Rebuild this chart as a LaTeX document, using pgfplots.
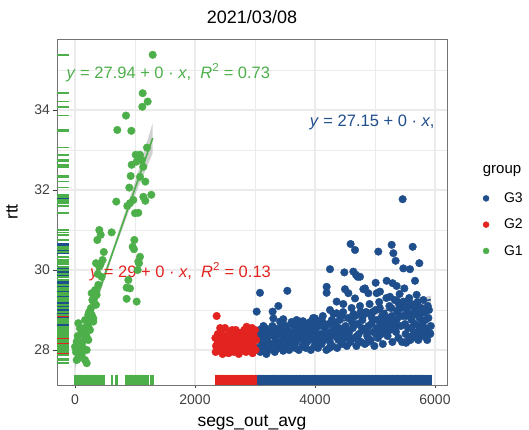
\documentclass[border=0pt]{standalone}
\usepackage{pgfplots}
\pgfplotsset{compat=1.18}
\usepackage{pgfplotstable}
\usepackage{fontspec}
\setmainfont{Liberation Sans}
\definecolor{cthree}{HTML}{1F4E8C}
\definecolor{ctwo}{HTML}{E2231F}
\definecolor{cone}{HTML}{4DAF4A}
\definecolor{gridc}{HTML}{EBEBEB}
\definecolor{bandc}{HTML}{9A9A9A}

% G1
\pgfplotstableread{
x y
1295 35.38
1128 34.42
1211 34.21
1122 34.08
850 33.86
705 33.50
939 33.48
1200 33.06
1012 32.88
1083 32.88
1028 32.71
1112 32.75
945 32.63
1138 32.58
928 32.35
1083 32.33
905 32.06
1172 32.21
1272 31.88
1139 31.83
1172 31.73
688 31.71
917 31.67
972 31.75
872 31.60
1000 31.42
1055 31.43
405 31.00
428 30.88
372 30.75
611 30.94
989 30.75
961 30.58
983 30.52
1083 30.33
1055 30.21
350 30.17
428 30.15
405 30.08
1067 30.17
1044 30.00
389 29.63
444 29.83
861 29.56
889 29.75
917 29.54
278 29.42
361 29.38
305 29.21
350 29.13
861 29.28
1028 29.21
250 28.96
222 28.88
278 28.88
305 28.79
167 28.75
305 28.71
222 28.58
250 28.50
55 28.67
83 28.54
195 28.33
222 28.25
28 28.21
83 28.13
0 28.08
139 28.04
195 28.00
111 27.88
55 27.79
28 27.75
167 27.75
195 27.67
15 27.95
45 28.35
70 28.00
100 28.40
125 28.20
150 28.55
180 28.45
210 28.70
235 28.95
265 29.05
290 29.25
320 29.30
335 29.50
380 29.90
460 30.25
480 30.45
}\tabone

% G2
\pgfplotstableread{
x y
2361 28.85
2340 28.30
2350 28.10
2345 27.95
2380 28.40
2390 28.20
2400 28.00
2420 28.30
2440 28.45
2450 28.10
2460 27.90
2480 28.25
2500 28.55
2510 28.05
2530 28.35
2545 28.15
2560 27.92
2580 28.45
2600 28.25
2615 28.05
2630 28.38
2650 27.95
2660 28.20
2680 28.50
2700 28.10
2715 28.30
2730 27.90
2750 28.42
2765 28.15
2780 28.00
2800 28.30
2820 28.50
2835 28.10
2850 27.95
2865 28.35
2880 28.20
2900 28.45
2915 28.00
2930 28.25
2950 28.55
2965 28.10
2980 28.35
3000 28.50
3010 28.00
3020 28.25
2370 28.15
2470 28.35
2570 28.30
2670 28.05
2770 28.35
2870 28.45
2960 27.92
2420 28.55
2620 28.50
2860 28.58
}\tabtwo

% G3
\pgfplotstableread{
x y
3040 28.05
3060 28.30
3075 28.50
3090 27.95
3110 28.20
3130 28.40
3150 28.10
3170 28.55
3190 27.90
3210 28.30
3230 28.00
3250 28.45
3270 28.15
3290 28.60
3310 28.35
3330 27.95
3350 28.25
3370 28.50
3390 28.05
3410 28.40
3430 28.20
3450 28.65
3470 27.98
3490 28.30
3510 28.10
3530 28.50
3550 28.25
3570 28.00
3590 28.45
3610 28.70
3630 28.15
3650 28.35
3670 28.05
3690 28.55
3710 28.25
3730 28.00
3750 28.40
3770 28.60
3790 28.10
3810 28.30
3830 28.50
3850 28.05
3870 28.20
3890 28.65
3910 28.35
3930 28.00
3950 28.45
3970 28.80
3990 28.10
4010 28.55
4030 28.30
4050 28.05
4070 28.70
4090 28.40
4110 28.15
4130 28.85
4150 28.25
4170 28.55
4190 28.00
4210 28.40
4230 28.65
4250 28.20
4270 28.45
4290 28.10
4310 28.90
4330 28.35
4350 28.60
4370 28.05
4390 28.25
4410 28.75
4430 28.50
4450 28.15
4470 28.95
4490 28.35
4510 28.60
4530 28.10
4550 28.80
4570 28.45
4590 28.20
4610 29.05
4630 28.55
4650 28.30
4670 28.85
4690 28.10
4710 28.65
4730 28.40
4750 29.10
4770 28.20
4790 28.75
4810 28.50
4830 28.15
4850 28.95
4870 28.35
4890 28.60
4910 29.15
4930 28.25
4950 28.80
4970 28.45
4990 28.10
5010 29.00
5030 28.55
5050 28.30
5070 29.20
5090 28.70
5110 28.40
5130 28.15
5150 28.90
5170 28.60
5190 29.30
5210 28.35
5230 28.80
5250 28.50
5270 29.05
5290 28.20
5310 28.70
5330 29.25
5350 28.45
5370 28.95
5390 28.30
5410 29.40
5430 28.60
5450 28.20
5470 28.85
5490 29.15
5510 28.40
5530 29.00
5550 28.55
5570 29.30
5590 28.25
5610 28.75
5630 29.10
5650 28.45
5670 28.90
5690 28.30
5710 29.20
5730 28.60
5750 28.40
5770 29.05
5790 28.70
5810 28.35
5830 28.95
5850 28.50
5870 28.25
5890 28.80
5920 28.40
5930 28.60
3100 28.35
3180 28.20
3260 28.40
3340 28.10
3420 28.55
3500 28.30
3580 28.15
3660 28.45
3740 28.30
3820 28.15
3900 28.50
3980 28.25
4060 28.60
4140 28.40
4220 28.30
4300 28.50
4380 28.40
4460 28.25
4540 28.45
4620 28.70
4700 28.35
4780 28.55
4860 28.45
4940 28.65
5020 28.40
5100 28.55
5180 28.75
5260 28.65
5340 28.60
5420 28.85
5500 28.65
5580 28.90
5660 28.65
5740 28.80
5820 28.55
5900 29.00
3045 28.42
3120 28.05
3200 28.48
3280 28.02
3360 28.38
3440 28.08
3520 28.60
3600 28.30
3680 28.20
3760 28.50
3840 28.35
3920 28.70
4000 28.45
4080 28.20
4160 28.65
4240 28.05
4320 28.70
4400 28.55
4480 28.55
4560 28.30
4640 28.90
4720 28.25
4800 28.85
4880 28.20
4960 28.95
5040 28.75
5120 28.85
5200 28.50
5280 28.85
5360 28.75
5440 29.05
5520 28.85
5600 28.55
5680 29.10
5760 28.50
5840 28.75
5880 29.10
3140 28.60
3320 28.55
3480 28.48
3640 28.62
3800 28.72
3960 28.62
4120 28.60
4280 28.75
4440 28.85
4600 28.80
4760 28.95
4920 28.90
5080 29.05
5240 29.10
5400 29.15
5560 29.15
5720 29.00
4594 30.65
4667 30.50
5055 30.46
5278 30.63
5628 30.58
5306 30.42
5344 30.23
5739 30.17
5472 30.04
5583 30.02
4250 30.02
4489 29.94
4639 29.96
4683 29.88
4711 29.83
5011 29.68
5194 29.73
5294 29.67
5361 29.60
5489 29.54
3083 29.43
3539 29.48
4194 29.58
4194 29.43
4500 29.52
4556 29.42
4806 29.52
4889 29.42
5028 29.42
5083 29.46
5694 29.38
5806 29.25
4667 29.29
4361 29.21
4472 29.15
5250 29.33
5361 29.23
5472 29.21
5611 29.15
5667 29.00
3028 28.96
3294 28.96
3389 29.10
3306 28.79
3417 28.71
3472 28.77
3694 28.75
3750 28.71
3833 28.67
4000 28.79
4111 28.75
4250 29.00
4361 28.92
5917 28.42
5889 28.38
5528 28.21
5583 28.33
5806 28.58
5722 28.25
5461 31.77
4750 29.83
4833 29.54
5667 29.73
5778 28.92
5517 28.18
}\tabthree

\begin{document}
\begin{tikzpicture}
\begin{axis}[
    scale only axis,
    width=390pt, height=346pt,
    xmin=-300, xmax=6200,
    ymin=27.125, ymax=35.775,
    xtick={0,2000,4000,6000},
    minor xtick={1000,3000,5000},
    ytick={28,30,32,34},
    minor ytick={29,31,33,35},
    grid=both,
    major grid style={gridc, line width=1.3pt},
    minor grid style={gridc, line width=0.7pt},
    axis line style={black!55, line width=0.9pt},
    tick align=outside,
    major tick length=3.5pt,
    minor tick length=0pt,
    tick style={black!75, line width=0.8pt},
    xtick pos=bottom, ytick pos=left,
    scaled ticks=false,
    /pgf/number format/1000 sep={},
    /pgf/number format/assume math mode=true,
    tick label style={font=\fontsize{14}{16}\selectfont, text=black!75},
    xticklabel style={yshift=-3pt},
    title={2021/03/08},
    title style={font=\fontsize{18}{20}\selectfont, at={(axis description cs:0.5,1.045)}, anchor=center},
    xlabel={segs\_out\_avg},
    ylabel={rtt},
    xlabel style={font=\fontsize{17.5}{20}\selectfont, at={(axis description cs:0.5,-0.11)}, anchor=center},
    ylabel style={font=\fontsize{17.5}{20}\selectfont, at={(axis description cs:-0.115,0.5)}, anchor=center},
    legend style={at={(axis description cs:1.092,0.562)}, anchor=north west,
      draw=none, fill=none, inner sep=0pt, row sep=11pt,
      font=\fontsize{14}{16}\selectfont,
      /tikz/every odd column/.append style={column sep=13pt}},
    legend cell align=left,
    legend image code/.code={\draw[#1, mark size=3pt] plot coordinates {(0pt,0pt)};},
    clip=false,
  ]

  % points, G1 last so it sits on top
  \addplot[only marks, mark=*, mark size=3.8pt, color=cthree] table[x=x, y=y] {\tabthree};
  \addlegendentry{G3}
  \addplot[only marks, mark=*, mark size=3.8pt, color=ctwo] table[x=x, y=y] {\tabtwo};
  \addlegendentry{G2}
  \addplot[only marks, mark=*, mark size=3.8pt, color=cone] table[x=x, y=y] {\tabone};
  \addlegendentry{G1}

  % rugs along x
  \addplot[forget plot, only marks, mark=|, mark size=5.2pt, color=cthree, mark options={line width=1.7pt}] table[x=x, y expr=27.255] {\tabthree};
  \addplot[forget plot, only marks, mark=|, mark size=5.2pt, color=ctwo, mark options={line width=1.7pt}] table[x=x, y expr=27.255] {\tabtwo};
  \addplot[forget plot, only marks, mark=|, mark size=5.2pt, color=cone, mark options={line width=1.7pt}] table[x=x, y expr=27.255] {\tabone};

  % rugs along y
  \addplot[forget plot, only marks, mark=-, mark size=5.85pt, color=cthree, mark options={line width=1.6pt}] table[x expr=-202.5, y=y] {\tabthree};
  \addplot[forget plot, only marks, mark=-, mark size=5.85pt, color=ctwo, mark options={line width=1.6pt}] table[x expr=-202.5, y=y] {\tabtwo};
  \addplot[forget plot, only marks, mark=-, mark size=5.85pt, color=cone, mark options={line width=1.6pt}] table[x expr=-202.5, y=y] {\tabone};

  % confidence bands
  \addplot[forget plot, draw=none, fill=bandc, fill opacity=0.45] coordinates {
    (0,27.98) (300,29.13) (650,30.62) (1000,32.20) (1295,33.68)
    (1295,32.92) (1000,31.88) (650,30.46) (300,28.89) (0,27.52)} -- cycle;
  \addplot[forget plot, draw=none, fill=bandc, fill opacity=0.45] coordinates {
    (3028,28.29) (4400,28.75) (5930,29.36)
    (5930,29.16) (4400,28.67) (3028,28.13)} -- cycle;

  % fitted lines
  \addplot[forget plot, cone, line width=1.6pt] coordinates {(0,27.75) (1295,33.30)};
  \addplot[forget plot, ctwo, line width=1.6pt] coordinates {(2330,28.18) (3030,28.27)};
  \addplot[forget plot, cthree, line width=1.6pt] coordinates {(3028,28.21) (5930,29.26)};

  % equations
  \node[anchor=west, text=cone, font=\fontsize{16.5}{18}\selectfont]
    at (axis cs:-200,34.93) {\textit{y} = 27.94 + 0 · \textit{x},\ \ \textit{R}\textsuperscript{2} = 0.73};
  \node[anchor=west, text=ctwo, font=\fontsize{16.5}{18}\selectfont]
    at (axis cs:195,29.96) {\textit{y} = 29 + 0 · \textit{x},\ \ \textit{R}\textsuperscript{2} = 0.13};
  \node[anchor=east, text=cthree, font=\fontsize{16.5}{18}\selectfont]
    at (axis cs:6050,33.70) {\textit{y} = 27.15 + 0 · \textit{x},};

  \node[anchor=west, font=\fontsize{15}{17}\selectfont]
    at (axis description cs:1.083,0.618) {group};
\end{axis}
\pgfresetboundingbox
\path (-57pt,-45pt) rectangle (472pt,385pt);
\end{tikzpicture}
\end{document}
